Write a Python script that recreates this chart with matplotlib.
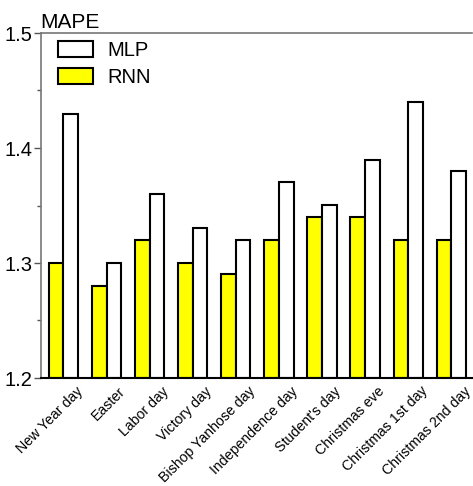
import numpy as np
import matplotlib
matplotlib.use('Agg')
import matplotlib.pyplot as plt
import matplotlib.transforms as mtransforms
from matplotlib.ticker import MultipleLocator

holidays = ['New Year day', 'Easter', 'Labor day', 'Victory day', 'Bishop Yanhose day',
            'Independence day', "Student's day", 'Christmas eve', 'Christmas 1st day',
            'Christmas 2nd day']
rnn = [1.30, 1.28, 1.32, 1.30, 1.29, 1.32, 1.34, 1.34, 1.32, 1.32]
mlp = [1.43, 1.30, 1.36, 1.33, 1.32, 1.37, 1.35, 1.39, 1.44, 1.38]

plt.rcParams['font.family'] = ['Liberation Sans', 'DejaVu Sans']

fig = plt.figure(figsize=(4.73, 4.86), dpi=100)
ax = fig.add_axes([41 / 473, 108 / 486, 431 / 473, 345 / 486])

x = np.arange(len(holidays))
w = 0.34
b_rnn = ax.bar(x - w / 2, np.array(rnn) - 1.2, w, bottom=1.2, color='#ffff00',
               edgecolor='black', linewidth=1.5, label='RNN')
b_mlp = ax.bar(x + w / 2, np.array(mlp) - 1.2, w, bottom=1.2, color='white',
               edgecolor='black', linewidth=1.5, label='MLP')

ax.set_xlim(-0.52, 9.48)
ax.set_ylim(1.2, 1.5)
ax.yaxis.set_minor_locator(MultipleLocator(0.05))
ax.set_yticks([1.2, 1.3, 1.4, 1.5])
ax.set_yticklabels(['1.2', '1.3', '1.4', '1.5'], fontsize=14.5)
ax.tick_params(axis='y', which='major', length=5, width=1, color='#555555', pad=1)
ax.tick_params(axis='y', which='minor', length=3, width=1, color='#555555')

ax.set_xticks(x)
ax.set_xticklabels(holidays, rotation=45, ha='right', va='center',
                   rotation_mode='anchor', fontsize=10.2)
ax.tick_params(axis='x', length=0, pad=8)
shift = mtransforms.ScaledTranslation(0.17, 0, fig.dpi_scale_trans)
for lbl in ax.get_xticklabels():
    lbl.set_transform(lbl.get_transform() + shift)

ax.spines['right'].set_visible(False)
for s in ['top', 'left']:
    ax.spines[s].set_color('#777777')
    ax.spines[s].set_linewidth(1.2)
ax.spines['bottom'].set_color('black')
ax.spines['bottom'].set_linewidth(1.5)

ax.text(-0.002, 1.004, 'MAPE', transform=ax.transAxes, fontsize=15, ha='left', va='bottom')

ax.legend([b_mlp, b_rnn], ['MLP', 'RNN'], loc='upper left', frameon=False, fontsize=14.5,
          handlelength=1.75, handleheight=0.8, handletextpad=0.7, labelspacing=0.4,
          borderpad=0, borderaxespad=0, bbox_to_anchor=(17 / 431, 1 - 8 / 345))

fig.savefig('out.png', dpi=100)
